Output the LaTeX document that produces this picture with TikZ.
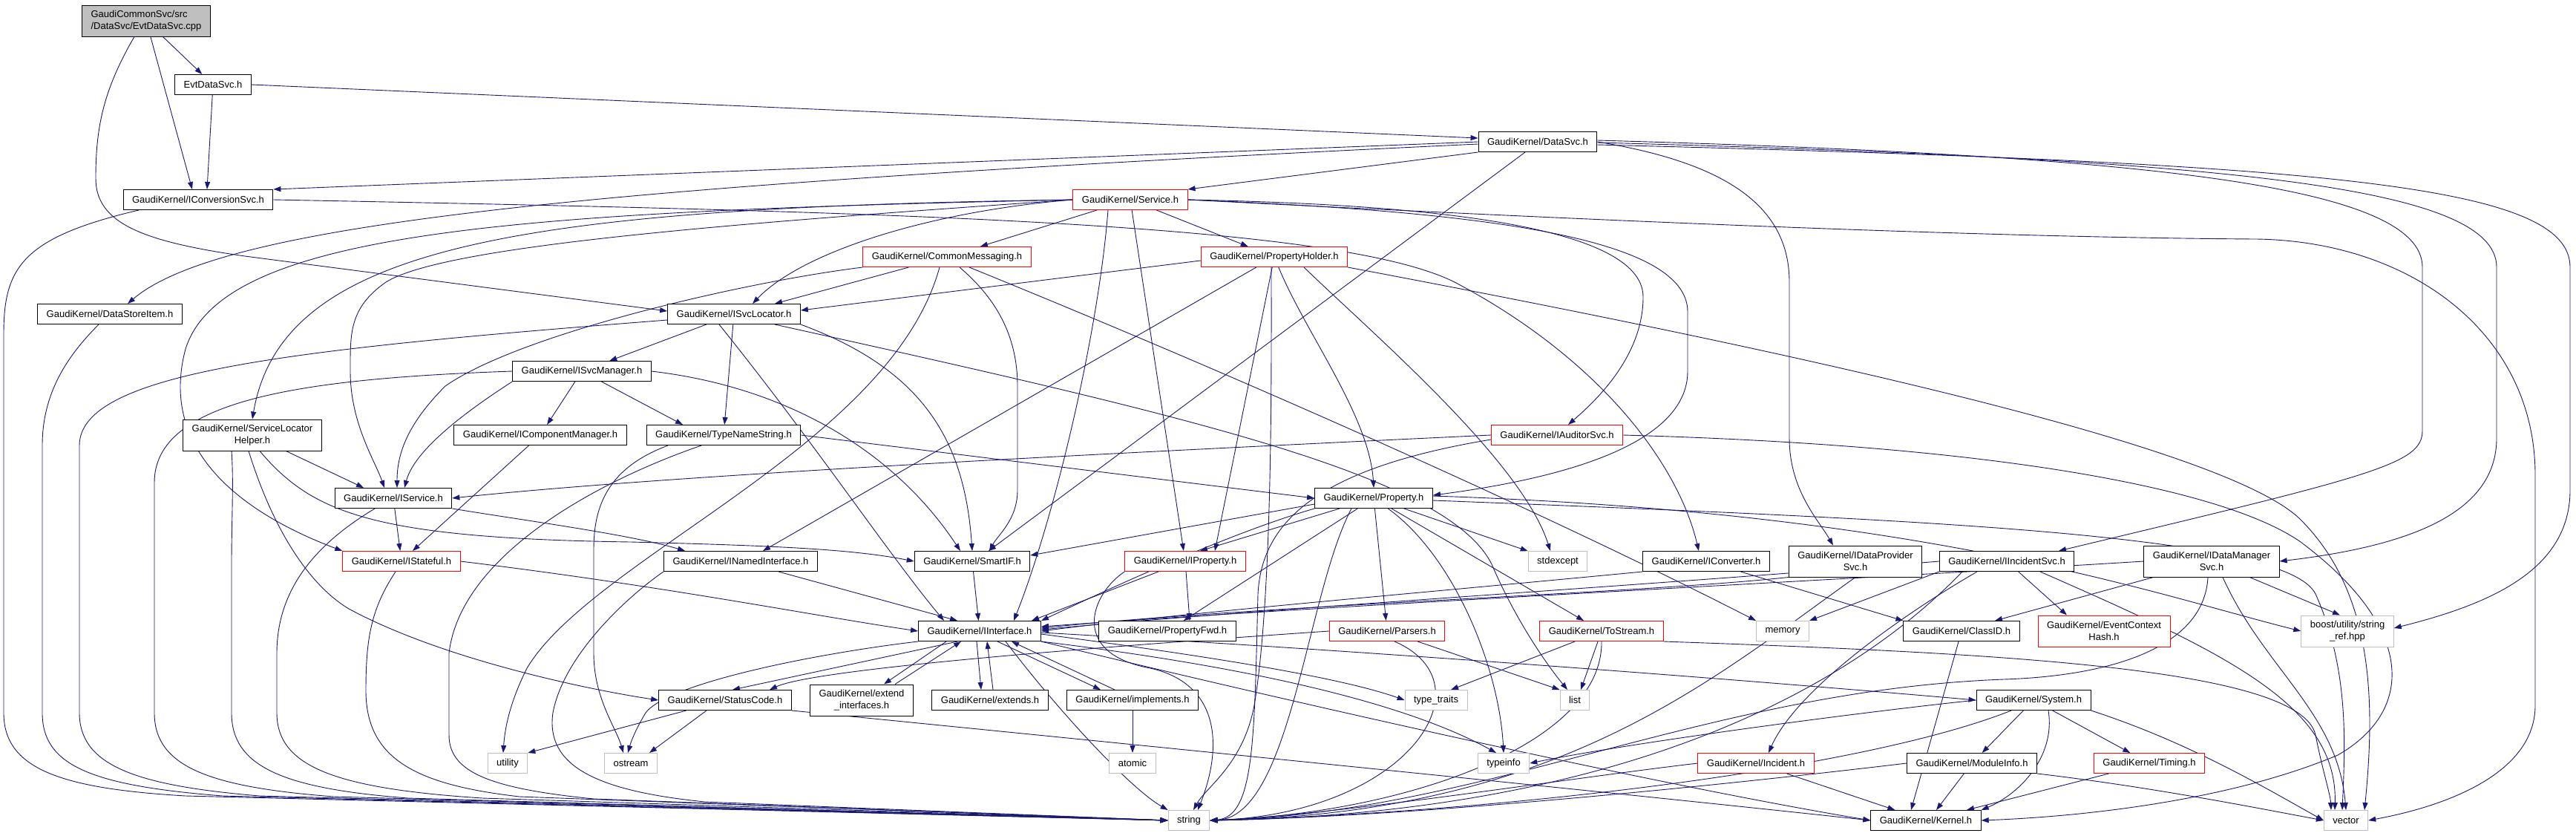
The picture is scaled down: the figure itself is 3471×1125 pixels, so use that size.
\documentclass[tikz,border=0pt]{standalone}
\usepackage{fontspec}
\setmainfont{Liberation Sans}
\usetikzlibrary{arrows.meta,calc}
\definecolor{dxedge}{RGB}{25,25,112}
\definecolor{dxgray}{RGB}{191,191,191}
\pgfdeclarelayer{bg}
\pgfsetlayers{bg,main}
\tikzstyle{hdr}=[
  draw=black,
  fill=white,
  font={\fontsize{13}{16}\selectfont},
  inner xsep=12pt,
  inner ysep=0pt,
  line width=1pt,
  minimum height=27pt,
  align=center,
]
\tikzstyle{trunc}=[hdr, draw=red]
\tikzstyle{sys}=[hdr, draw=dxgray]
\tikzstyle{tall}=[minimum height=42pt]
\tikzstyle{rootbox}=[hdr, tall, fill=dxgray, align=left]
\tikzstyle{incl}=[
  draw=dxedge,
  line width=0.9pt,
  -{Triangle[length=10pt,width=7pt]},
]

\begin{document}
\begin{tikzpicture}[x=1pt,y=-1pt]
\useasboundingbox (0,0) rectangle (3471,1125);
% top ranks
\node[rootbox] (root) at (197,28) {GaudiCommonSvc/src\\/DataSvc/EvtDataSvc.cpp};
\node[hdr] (evtsvch) at (287,114) {EvtDataSvc.h};
\node[hdr] (datasvc) at (2072,191) {GaudiKernel/DataSvc.h};
\node[hdr] (iconvsvc) at (267,269) {GaudiKernel/IConversionSvc.h};
\node[trunc] (service) at (1523,269) {GaudiKernel/Service.h};
\node[trunc] (commsg) at (1276,346) {GaudiKernel/CommonMessaging.h};
\node[trunc] (propholder) at (1717,346) {GaudiKernel/PropertyHolder.h};
\node[hdr] (datastore) at (148,423) {GaudiKernel/DataStoreItem.h};
\node[hdr] (isvcloc) at (989,423) {GaudiKernel/ISvcLocator.h};
\node[hdr] (isvcmgr) at (784,500) {GaudiKernel/ISvcManager.h};
\node[hdr, tall] (slhelper) at (340,586) {GaudiKernel/ServiceLocator\\Helper.h};
\node[hdr] (icompmgr) at (728,586) {GaudiKernel/IComponentManager.h};
\node[hdr] (typename) at (975,586) {GaudiKernel/TypeNameString.h};
\node[trunc] (iauditor) at (2098,586) {GaudiKernel/IAuditorSvc.h};
\node[hdr] (iservice) at (530,671) {GaudiKernel/IService.h};
\node[hdr] (property) at (1851,671) {GaudiKernel/Property.h};
% middle ranks
\node[trunc] (istateful) at (541,756) {GaudiKernel/IStateful.h};
\node[hdr] (inamed) at (998,756) {GaudiKernel/INamedInterface.h};
\node[hdr] (smartif) at (1310,756) {GaudiKernel/SmartIF.h};
\node[trunc] (iproperty) at (1597,756) {GaudiKernel/IProperty.h};
\node[sys] (stdexcept) at (2099,756) {stdexcept};
\node[hdr] (iconverter) at (2299,756) {GaudiKernel/IConverter.h};
\node[hdr, tall] (idataprov) at (2500,756) {GaudiKernel/IDataProvider\\Svc.h};
\node[hdr] (iincsvc) at (2704,756) {GaudiKernel/IIncidentSvc.h};
\node[hdr, tall] (idatamgr) at (2980,756) {GaudiKernel/IDataManager\\Svc.h};
\node[hdr] (iinterface) at (1320,850) {GaudiKernel/IInterface.h};
\node[hdr] (propfwd) at (1573,850) {GaudiKernel/PropertyFwd.h};
\node[trunc] (parsers) at (1869,850) {GaudiKernel/Parsers.h};
\node[trunc] (tostream) at (2158,850) {GaudiKernel/ToStream.h};
\node[sys] (memory) at (2402,850) {memory};
\node[hdr] (classid) at (2643,850) {GaudiKernel/ClassID.h};
\node[trunc, tall] (evctxhash) at (2835,850) {GaudiKernel/EventContext\\Hash.h};
\node[sys, tall] (stringref) at (3163,850) {boost/utility/string\\\_ref.hpp};
% bottom ranks
\node[hdr] (statuscode) at (977,943) {GaudiKernel/StatusCode.h};
\node[hdr, tall] (extendif) at (1161,943) {GaudiKernel/extend\\\_interfaces.h};
\node[hdr] (extends) at (1334,943) {GaudiKernel/extends.h};
\node[hdr] (implements) at (1526,943) {GaudiKernel/implements.h};
\node[sys] (typetraits) at (1935,943) {type\_traits};
\node[sys] (list) at (2122,943) {list};
\node[hdr] (system) at (2740,943) {GaudiKernel/System.h};
\node[sys] (utility) at (684,1028) {utility};
\node[sys] (ostream) at (850,1028) {ostream};
\node[sys] (atomic) at (1526,1028) {atomic};
\node[sys] (typeinfo) at (2026,1028) {typeinfo};
\node[trunc] (incident) at (2366,1028) {GaudiKernel/Incident.h};
\node[hdr] (moduleinfo) at (2657,1028) {GaudiKernel/ModuleInfo.h};
\node[trunc] (timing) at (2896,1028) {GaudiKernel/Timing.h};
\node[sys] (string) at (1602,1105) {string};
\node[hdr] (kernel) at (2595,1105) {GaudiKernel/Kernel.h};
\node[sys] (vector) at (3161,1105) {vector};

\begin{pgfonlayer}{bg}
% EvtDataSvc.cpp
\draw[incl] (root) -- (evtsvch);
\draw[incl] (root) -- ([xshift=-8pt]iconvsvc.north);
\draw[incl] ([xshift=-16pt]root.south) .. controls (140,120) and (129,170) .. (129,240) .. controls (129,300) and (190,325) .. (330,345) -- ([yshift=4pt]isvcloc.west);
% EvtDataSvc.h
\draw[incl] (evtsvch) -- ([xshift=12pt]iconvsvc.north);
\draw[incl] (evtsvch.east) -- ([yshift=5pt]datasvc.west);
% DataSvc.h
\draw[incl] (datasvc.west) -- (iconvsvc.north east);
\draw[incl] ([yshift=-3pt]datasvc.west) .. controls (800,250) and (300,300) .. ([xshift=24pt]datastore.north);
\draw[incl] (datasvc.south west) -- (service.north east);
\draw[incl] ([xshift=-17pt]datasvc.south) -- ([xshift=22pt]smartif.north);
\draw[incl] (datasvc.east) .. controls (2330,220) and (2411,280) .. (2411,380) -- (2411,590) .. controls (2411,660) and (2450,700) .. ([xshift=-30pt]idataprov.north);
\draw[incl] ([yshift=2pt]datasvc.east) .. controls (2900,210) and (3264,250) .. (3264,360) -- (3264,580) .. controls (3264,625) and (3200,640) .. ([xshift=70pt]iincsvc.north);
\draw[incl] ([yshift=-1pt]datasvc.east) .. controls (3000,215) and (3364,250) .. (3364,360) -- (3364,590) .. controls (3364,690) and (3250,735) .. (idatamgr.east);
\draw[incl] ([yshift=-4pt]datasvc.east) .. controls (3150,220) and (3463,250) .. (3463,360) -- (3463,660) .. controls (3463,770) and (3350,815) .. ([yshift=4pt]stringref.east);
% IConversionSvc.h
\draw[incl] (iconvsvc.east) .. controls (1200,285) and (1800,300) .. (1960,380) .. controls (2150,480) and (2260,620) .. ([xshift=-10pt]iconverter.north);
\draw[incl] ([xshift=-80pt]iconvsvc.south) .. controls (30,320) and (5,360) .. (5,450) -- (5,960) .. controls (5,1035) and (80,1062) .. (250,1072) -- (string.west);
% DataStoreItem.h
\draw[incl] ([xshift=-15pt]datastore.south) .. controls (90,480) and (57,530) .. (57,600) -- (57,960) .. controls (57,1030) and (120,1058) .. (300,1072) -- (string.west);
% Service.h
\draw[incl] (service) -- (commsg);
\draw[incl] (service) -- (propholder);
\draw[incl] (service.west) .. controls (1250,285) and (1080,340) .. ([xshift=25pt]isvcloc.north);
\draw[incl] (service.west) .. controls (700,280) and (380,330) .. (slhelper.north);
\draw[incl] (service.west) .. controls (700,285) and (300,310) .. (250,470) .. controls (210,620) and (350,700) .. (istateful.north west);
\draw[incl] (service.west) .. controls (1000,300) and (600,330) .. (520,380) .. controls (470,415) and (472,450) .. (472,500) .. controls (472,570) and (505,620) .. ([xshift=-12pt]iservice.north);
\draw[incl] ([xshift=-30pt]service.south) .. controls (1480,450) and (1420,700) .. ([xshift=46pt]iinterface.north);
\draw[incl] (service) -- (iproperty);
\draw[incl] (service.east) .. controls (1900,275) and (2214,300) .. (2214,400) .. controls (2214,480) and (2150,540) .. ([xshift=15pt]iauditor.north);
\draw[incl] (service.east) .. controls (2000,285) and (2274,320) .. (2274,420) -- (2274,500) .. controls (2274,600) and (2100,645) .. ([yshift=4pt]property.east);
\draw[incl] (service.east) .. controls (2200,300) and (2700,320) .. (3040,322) .. controls (3250,325) and (3416,450) .. (3416,640) -- (3416,950) .. controls (3416,1040) and (3300,1085) .. (vector.east);
% CommonMessaging.h
\draw[incl] (commsg) -- ([xshift=55pt]isvcloc.north);
\draw[incl] (commsg.south west) .. controls (1000,380) and (700,450) .. (600,520) .. controls (550,570) and (535,610) .. ([xshift=5pt]iservice.north);
\draw[incl] ([xshift=17pt]commsg.south) .. controls (1340,400) and (1371,450) .. (1371,520) -- (1371,660) .. controls (1371,700) and (1345,720) .. ([xshift=23pt]smartif.north);
\draw[incl] ([xshift=30pt]commsg.south) .. controls (1700,520) and (2100,700) .. (memory.north west);
\draw[incl] ([xshift=-10pt]commsg.south) .. controls (1200,600) and (800,750) .. (710,900) .. controls (685,950) and (680,985) .. ([xshift=-6pt]utility.north);
% PropertyHolder.h
\draw[incl] ([yshift=-5pt]propholder.west) -- ([yshift=5pt]isvcloc.east);
\draw[incl] (propholder) -- ([xshift=30pt]inamed.north);
\draw[incl] (propholder) .. controls (1760,450) and (1845,560) .. (property.north);
\draw[incl] (propholder) -- ([xshift=40pt]iproperty.north);
\draw[incl] ([xshift=40pt]propholder.south) .. controls (1850,450) and (2050,620) .. ([xshift=-10pt]stdexcept.north);
\draw[incl] (propholder.south east) .. controls (2400,470) and (3000,600) .. (3100,700) .. controls (3200,800) and (3200,950) .. ([xshift=25pt]vector.north);
\draw[incl] ([xshift=-4pt]propholder.south) .. controls (1713,500) and (1715,800) .. (1690,950) .. controls (1675,1030) and (1625,1060) .. ([xshift=6pt]string.north);
% ISvcLocator.h
\draw[incl] (isvcloc) -- (isvcmgr);
\draw[incl] (isvcloc) -- (typename);
\draw[incl] (isvcloc.south east) .. controls (1250,500) and (1300,600) .. (smartif.north);
\draw[incl] ([xshift=-20pt]isvcloc.south) .. controls (1100,600) and (1200,750) .. ([xshift=-48pt]iinterface.north);
\draw[incl] ([xshift=55pt]isvcloc.south) .. controls (1600,560) and (1950,640) .. (2010,760) .. controls (2040,830) and (2080,890) .. ([xshift=-10pt]list.north);
\draw[incl] ([yshift=-8pt]isvcloc.west) .. controls (400,470) and (107,500) .. (107,600) -- (107,960) .. controls (107,1030) and (180,1058) .. (350,1072) -- (string.west);
% ISvcManager.h
\draw[incl] (isvcmgr) -- (icompmgr);
\draw[incl] (isvcmgr) -- ([xshift=-55pt]typename.north);
\draw[incl] (isvcmgr.south west) .. controls (650,540) and (560,600) .. ([xshift=15pt]iservice.north);
\draw[incl] (isvcmgr.east) .. controls (1050,520) and (1200,600) .. ([xshift=-16pt]smartif.north);
\draw[incl] (isvcmgr.west) .. controls (400,510) and (208,540) .. (208,650) -- (208,960) .. controls (208,1032) and (280,1060) .. (450,1073) -- (string.west);
% ServiceLocatorHelper.h
\draw[incl] (slhelper) -- ([xshift=-40pt]iservice.north);
\draw[incl] ([xshift=10pt]slhelper.south) .. controls (420,690) and (500,725) .. (850,730) .. controls (1050,735) and (1150,740) .. (smartif.west);
\draw[incl] ([xshift=-28pt]slhelper.south) .. controls (315,650) and (312,700) .. (312,760) -- (312,960) .. controls (312,1032) and (380,1062) .. (550,1075) -- (string.west);
\draw[incl] ([xshift=-5pt]slhelper.south) .. controls (370,720) and (420,790) .. (470,820) .. controls (600,890) and (800,930) .. (statuscode.west);
% IComponentManager.h
\draw[incl] (icompmgr) -- ([xshift=15pt]istateful.north);
% TypeNameString.h
\draw[incl] (typename.east) -- (property.west);
\draw[incl] ([xshift=-30pt]typename.south) .. controls (800,650) and (620,750) .. (605,880) -- (605,990) .. controls (605,1040) and (660,1062) .. (800,1076) -- (string.west);
\draw[incl] ([xshift=-75pt]typename.south) .. controls (820,630) and (800,680) .. (800,740) -- (800,880) .. controls (800,940) and (830,980) .. ([xshift=-10pt]ostream.north);
% IAuditorSvc.h
\draw[incl] (iauditor.west) .. controls (1500,610) and (900,640) .. (iservice.east);
\draw[incl] ([yshift=-6pt]iauditor.west) .. controls (1780,630) and (1700,700) .. (1695,800) .. controls (1690,1000) and (1690,1100) .. (string.east);
\draw[incl] (iauditor.east) .. controls (2700,600) and (3000,660) .. (3100,730) .. controls (3260,850) and (3250,960) .. (3150,1017) .. controls (3000,1080) and (2800,1100) .. (kernel.east);
% Property.h
\draw[incl] ([yshift=-8pt]property.west) -- ([yshift=8pt]smartif.east);
\draw[incl] (property) -- ([xshift=20pt]iproperty.north);
\draw[incl] (property) -- (propfwd);
\draw[incl] (property.south west) .. controls (1650,720) and (1480,800) .. (iinterface.north east);
\draw[incl] (property) -- (parsers);
\draw[incl] (property) -- (tostream);
\draw[incl] (property) .. controls (1960,750) and (2020,900) .. (typeinfo.north);
\draw[incl] (property) -- (stdexcept);
\draw[incl] ([xshift=-30pt]property.south) .. controls (1760,800) and (1740,1100) .. (string.east);
\draw[incl] ([yshift=3pt]property.east) .. controls (2600,690) and (2900,800) .. (stringref.west);
\draw[incl] ([yshift=-3pt]property.east) .. controls (2600,700) and (3080,720) .. (3120,800) .. controls (3165,900) and (3160,1000) .. ([xshift=-5pt]vector.north);
% IProperty.h
\draw[incl] (iproperty) -- ([xshift=70pt]iinterface.north);
\draw[incl] (iproperty) -- ([xshift=30pt]propfwd.north);
\draw[incl] (iproperty.south west) .. controls (1470,800) and (1440,880) .. (1550,900) .. controls (1640,920) and (1650,1000) .. ([xshift=12pt]string.north);
% INamedInterface.h
\draw[incl] (inamed) -- ([xshift=-30pt]iinterface.north);
\draw[incl] (inamed.south west) .. controls (850,800) and (760,880) .. (745,960) .. controls (735,1030) and (800,1065) .. (950,1080) -- (string.west);
% SmartIF.h
\draw[incl] (smartif) -- (iinterface);
% IStateful.h
\draw[incl] (istateful.east) .. controls (900,790) and (1100,830) .. (iinterface.west);
\draw[incl] ([xshift=-8pt]istateful.south) .. controls (500,820) and (493,860) .. (493,930) .. controls (493,1022) and (560,1057) .. (700,1073) -- (string.west);
% IService.h
\draw[incl] (iservice) -- (istateful);
\draw[incl] (iservice.south east) .. controls (700,700) and (850,720) .. ([xshift=-75pt]inamed.north);
\draw[incl] ([xshift=-25pt]iservice.south) .. controls (430,730) and (373,790) .. (373,880) -- (373,960) .. controls (373,1032) and (450,1062) .. (650,1075) -- (string.west);
% IConverter.h
\draw[incl] (iconverter.south west) .. controls (1900,800) and (1600,825) .. (iinterface.east);
\draw[incl] (iconverter) -- (classid.north west);
% IDataProviderSvc.h
\draw[incl] (idataprov.south west) .. controls (2200,800) and (1700,815) .. ([yshift=4pt]iinterface.east);
\draw[incl] (idataprov.south) .. controls (2300,920) and (2100,1095) .. (string.east);
% IIncidentSvc.h
\draw[incl] (iincsvc.west) .. controls (2200,790) and (1700,820) .. ([yshift=2pt]iinterface.east);
\draw[incl] (iincsvc.south west) -- (memory.north east);
\draw[incl] ([xshift=-40pt]iincsvc.south) .. controls (2560,830) and (2420,930) .. ([xshift=17pt]incident.north);
\draw[incl] (iincsvc) -- ([xshift=-50pt]evctxhash.north);
\draw[incl] ([xshift=45pt]iincsvc.south) .. controls (3000,880) and (3150,950) .. ([xshift=-15pt]vector.north);
\draw[incl] ([xshift=-60pt]iincsvc.south) .. controls (2500,920) and (2200,1095) .. (string.east);
% IDataManagerSvc.h
\draw[incl] (idatamgr.west) .. controls (2500,780) and (1800,815) .. ([yshift=6pt]iinterface.east);
\draw[incl] (idatamgr) -- ([xshift=45pt]classid.north);
\draw[incl] (idatamgr) -- ([xshift=-10pt]stringref.north);
\draw[incl] ([xshift=15pt]idatamgr.south) .. controls (3050,900) and (3150,960) .. (vector.north);
\draw[incl] ([xshift=-5pt]idatamgr.south) .. controls (2970,870) and (2850,910) .. (2700,915) .. controls (2300,930) and (2000,1095) .. (string.east);
% IInterface.h
\draw[incl] ([xshift=-30pt]iinterface.south) -- ([xshift=10pt]statuscode.north);
\draw[incl] ([xshift=-45pt]iinterface.south) -- ([xshift=30pt]extendif.north);
\draw[incl] ([xshift=-4pt]iinterface.south) -- ([xshift=-12pt]extends.north);
\draw[incl] ([xshift=24pt]iinterface.south) -- ([xshift=-43pt]implements.north);
\draw[incl] (iinterface.south west) .. controls (1100,880) and (900,920) .. (870,960) .. controls (855,985) and (850,1000) .. ([xshift=-4pt]ostream.north);
\draw[incl] ([yshift=-4pt]iinterface.east) .. controls (1600,880) and (1800,910) .. (typetraits.west);
\draw[incl] (iinterface.south east) .. controls (1700,900) and (1900,950) .. ([xshift=-10pt]typeinfo.north);
\draw[incl] ([xshift=35pt]iinterface.south) .. controls (1420,950) and (1520,1060) .. (string.north west);
\draw[incl] ([yshift=-2pt]iinterface.east) .. controls (1900,880) and (2400,920) .. (system.west);
\draw[incl] (iinterface.south east) .. controls (1800,960) and (2250,1060) .. (kernel.west);
% back to IInterface.h
\draw[incl] ([xshift=45pt]extendif.north) -- ([xshift=-25pt]iinterface.south);
\draw[incl] ([xshift=4pt]extends.north) -- ([xshift=10pt]iinterface.south);
\draw[incl] ([xshift=-24pt]implements.north) -- ([xshift=43pt]iinterface.south);
\draw[incl] (implements) -- (atomic);
% StatusCode.h
\draw[incl] (statuscode) -- (utility.north east);
\draw[incl] ([xshift=-25pt]statuscode.south) -- ([xshift=25pt]ostream.north);
\draw[incl] (statuscode.south east) .. controls (1500,1000) and (2200,1070) .. (kernel.west);
% Parsers.h
\draw[incl] (parsers.west) .. controls (1500,870) and (1100,900) .. ([xshift=60pt]statuscode.north);
\draw[incl] (parsers) -- (list.north west);
\draw[incl] ([xshift=10pt]parsers.south) .. controls (2010,920) and (1900,1095) .. (string.east);
% ToStream.h
\draw[incl] (tostream) -- ([xshift=20pt]typetraits.north);
\draw[incl] (tostream) -- ([xshift=8pt]list.north);
\draw[incl] (tostream.south) .. controls (2160,1000) and (1900,1095) .. (string.east);
\draw[incl] (tostream.south east) .. controls (2700,880) and (3100,900) .. (3120,990) .. controls (3130,1040) and (3140,1070) .. ([xshift=-20pt]vector.north);
% System.h
\draw[incl] (system.west) .. controls (2500,960) and (2200,1000) .. (typeinfo.east);
\draw[incl] (system) -- (moduleinfo);
\draw[incl] (system) -- (timing);
\draw[incl] (system.south east) .. controls (2950,1000) and (3050,1060) .. (vector.west);
\draw[incl] ([xshift=20pt]system.south) .. controls (2770,1020) and (2720,1070) .. (kernel.north east);
\draw[incl] ([xshift=-30pt]system.south) .. controls (2500,1040) and (2000,1095) .. (string.east);
% Incident.h
\draw[incl] (incident) -- (kernel);
\draw[incl] (incident.west) .. controls (2100,1050) and (1800,1098) .. (string.east);
% ModuleInfo.h
\draw[incl] (moduleinfo) -- ([xshift=14pt]kernel.north);
\draw[incl] (moduleinfo.west) .. controls (2300,1060) and (1900,1100) .. (string.east);
\draw[incl] (moduleinfo.south east) .. controls (2900,1060) and (3050,1090) .. (vector.west);
% Timing.h and ClassID.h
\draw[incl] (timing) -- ([xshift=55pt]kernel.north);
\draw[incl] (classid) -- ([xshift=-20pt]kernel.north);
\end{pgfonlayer}
\end{tikzpicture}
\end{document}
